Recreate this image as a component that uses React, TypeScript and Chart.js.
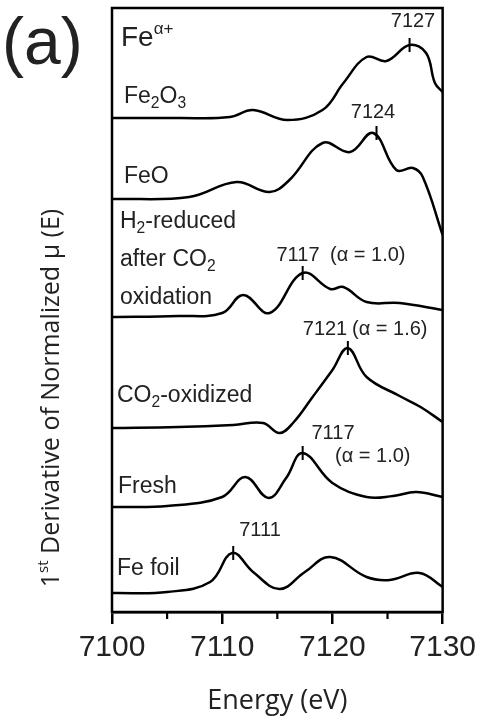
import React, { useEffect, useRef } from "react";
import { Chart, registerables } from "chart.js";
Chart.register(...registerables);

// energies (eV) and curve values (arbitrary stacked units)
const feFoilE = [7100, 7105, 7108.9, 7110.9, 7112.8, 7115.2, 7117.5, 7119.8, 7123.1, 7125.2, 7127.9, 7130];
const feFoilY = [19, 20, 30, 59, 40, 23, 40, 55, 35, 32, 39, 25];
const freshE = [7100, 7105, 7110, 7112.1, 7114.2, 7115.8, 7117.3, 7120, 7123.1, 7125.5, 7127.6, 7130];
const freshY = [105, 106, 115, 135, 114, 134, 159, 129, 115, 116, 120, 115];
const co2E = [7100, 7106, 7111, 7113.7, 7115.2, 7116.5, 7118.2, 7120, 7121.4, 7123.1, 7126.1, 7128, 7130];
const co2Y = [184, 185, 187, 189, 179, 190, 215, 242, 264, 235, 216, 205, 190];
const h2E = [7100, 7106, 7110, 7111.9, 7114.3, 7117.3, 7119.8, 7121, 7123.1, 7126.1, 7130];
const h2Y = [295, 296, 299, 317, 299, 339, 323, 325, 310, 309, 302];
const feoE = [7100, 7107, 7111.3, 7114.3, 7116.1, 7119.1, 7121.6, 7123.7, 7125.8, 7127.3, 7128.2, 7130];
const feoY = [413, 415, 430, 420, 432, 469, 460, 479, 442, 444, 435, 377];
const fe2o3E = [7100, 7106, 7110.7, 7112.8, 7115.9, 7119.1, 7121, 7123.1, 7124.9, 7127, 7128.5, 7129.3, 7130];
const fe2o3Y = [494, 494, 495, 502, 492, 502, 529, 555, 551, 567, 559, 529, 520];

const peakE = [7127, 7124, 7117.3, 7121.4, 7117.3, 7111];
const peakY = [567, 479, 339, 264, 159, 59];
const xTicks = [7100, 7110, 7120, 7130];
const minorTicks = [7105, 7115, 7125];

const series = [
  [fe2o3E, fe2o3Y], [feoE, feoY], [h2E, h2Y], [co2E, co2Y], [freshE, freshY], [feFoilE, feFoilY],
];

const SANS = "'Liberation Sans', Arial, sans-serif";
const CAL = "'Open Sans', sans-serif";

export default function App() {
  const ref = useRef<HTMLCanvasElement>(null);
  useEffect(() => {
    const overlay = {
      id: "overlay",
      afterDraw(chart: any) {
        const { ctx, chartArea: a, scales } = chart;
        const xs = scales.x, ys = scales.y;
        ctx.save();
        ctx.strokeStyle = "#000";
        ctx.lineWidth = 2.5;
        ctx.strokeRect(a.left, a.top, a.right - a.left, a.bottom - a.top);
        ctx.lineWidth = 2.2;
        minorTicks.forEach((v) => {
          const px = xs.getPixelForValue(v);
          ctx.beginPath(); ctx.moveTo(px, a.bottom); ctx.lineTo(px, a.bottom + 7); ctx.stroke();
        });
        ctx.lineWidth = 2;
        peakE.forEach((e, i) => {
          const px = xs.getPixelForValue(e), py = ys.getPixelForValue(peakY[i]);
          ctx.beginPath(); ctx.moveTo(px, py - 7); ctx.lineTo(px, py + 7); ctx.stroke();
        });
        ctx.fillStyle = "#222";
        ctx.textBaseline = "middle";
        const t = (s: string, x: number, y: number, size: number, font = SANS, align: CanvasTextAlign = "left") => {
          ctx.font = `${size}px ${font}`; ctx.textAlign = align; ctx.fillText(s, x, y);
          return ctx.measureText(s).width;
        };
        const sub = (parts: [string, boolean][], x: number, y: number, size: number) => {
          let cx = x;
          parts.forEach(([s, isSub]) => {
            if (isSub) cx += t(s, cx, y + size * 0.3, size * 0.68);
            else cx += t(s, cx, y, size);
          });
        };
        // panel label and sample names
        t("(a)", 2, 46, 66);
        let w = t("Fe", 121, 38, 28);
        t("α+", 121 + w, 29, 17);
        sub([["Fe", false], ["2", true], ["O", false], ["3", true]], 124, 97, 23);
        t("FeO", 124, 177, 23);
        sub([["H", false], ["2", true], ["-reduced", false]], 120, 222, 23);
        sub([["after CO", false], ["2", true]], 120, 260, 23);
        t("oxidation", 120, 298, 23);
        sub([["CO", false], ["2", true], ["-oxidized", false]], 117, 396, 23);
        t("Fresh", 118, 487, 23);
        t("Fe foil", 117, 569, 23);
        // peak labels
        t("7127", 413, 21, 20, SANS, "center");
        t("7124", 373, 112, 20, SANS, "center");
        t("7117", 298, 255, 20, SANS, "center");
        t("(α = 1.0)", 330, 255, 20);
        t("7121", 325, 329, 20, SANS, "center");
        t("(α = 1.6)", 352, 329, 20);
        t("7117", 333, 433, 20, SANS, "center");
        t("(α = 1.0)", 335, 456, 20);
        t("7111", 260, 530, 20, SANS, "center");
        // y title
        ctx.save();
        ctx.translate(52, 398);
        ctx.rotate(-Math.PI / 2);
        const fs = 25;
        ctx.font = `${fs}px ${CAL}`;
        const main = "Derivative of Normalized μ (E)";
        const w1 = ctx.measureText("1").width;
        ctx.font = `${fs * 0.6}px ${CAL}`;
        const w2 = ctx.measureText("st").width;
        ctx.font = `${fs}px ${CAL}`;
        const w3 = ctx.measureText(" " + main).width;
        const start = -(w1 + w2 + w3) / 2;
        ctx.textAlign = "left";
        ctx.fillText("1", start, 0);
        ctx.font = `${fs * 0.6}px ${CAL}`;
        ctx.fillText("st", start + w1, -8);
        ctx.font = `${fs}px ${CAL}`;
        ctx.fillText(" " + main, start + w1 + w2, 0);
        ctx.restore();
        ctx.restore();
      },
    };
    const chart = new Chart(ref.current!, {
      type: "line",
      data: {
        datasets: series.map(([e, y]) => ({
          data: e.map((v, i) => ({ x: v, y: y[i] })),
          borderColor: "#000",
          borderWidth: 2.5,
          pointRadius: 0,
          tension: 0.4,
          fill: false,
        })),
      },
      options: {
        animation: false,
        responsive: false,
        layout: { padding: { left: 112, right: 39, top: 8, bottom: 0 } },
        plugins: { legend: { display: false }, tooltip: { enabled: false } },
        scales: {
          x: {
            type: "linear",
            min: 7100,
            max: 7130,
            afterBuildTicks: (s: any) => { s.ticks = xTicks.map((v) => ({ value: v })); },
            afterFit: (s: any) => { s.height = 110; },
            grid: { drawOnChartArea: false, tickLength: 12, lineWidth: 2.5, color: "#000" },
            border: { color: "#000", width: 2.5 },
            ticks: { color: "#222", font: { size: 30, family: SANS }, padding: 6, maxRotation: 0, callback: (v: any) => String(v) },
            title: { display: true, text: "Energy (eV)", color: "#222", font: { size: 27, family: CAL }, padding: { top: 0, bottom: 4 } },
          },
          y: { display: false, min: 0, max: 604 },
        },
      },
      plugins: [overlay],
    });
    return () => chart.destroy();
  }, []);
  return (
    <div style={{ position: "fixed", left: 0, top: 0, width: 482, height: 722, background: "#fff" }}>
      <canvas ref={ref} width={482} height={722} style={{ width: 482, height: 722 }} />
    </div>
  );
}
